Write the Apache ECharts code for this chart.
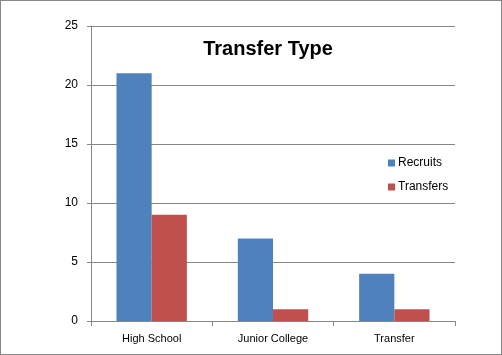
<!DOCTYPE html>
<html><head><meta charset="utf-8">
<script src="https://cdn.jsdelivr.net/npm/echarts@6/dist/echarts.min.js"></script>
<style>html,body{margin:0;padding:0;background:#fff}#c{width:502px;height:355px;box-sizing:border-box;border:1px solid #888}</style>
</head><body><div id="c"></div>
<script>
const categories = ["High School", "Junior College", "Transfer"];
const recruits = [21, 7, 4];
const transfers = [9, 1, 1];
const yTicks = [0, 5, 10, 15, 20, 25];

const chart = echarts.init(document.getElementById('c'), null, {renderer: 'canvas'});
const font = 'Liberation Sans, Arial, sans-serif';
chart.setOption({
  animation: false,
  title: {text: 'Transfer Type', left: 262, top: 33, textAlign: 'center',
    textStyle: {fontFamily: font, fontSize: 20, fontWeight: 'bold', color: '#000'}},
  legend: {orient: 'vertical', left: 382, top: 151, itemWidth: 7, itemHeight: 7, itemGap: 12,
    icon: 'rect', textStyle: {fontFamily: font, fontSize: 12, color: '#000', padding: [0,0,0,-2]}},
  grid: {left: 90, right: 46, top: 25, bottom: 33, containLabel: false},
  xAxis: {type: 'category', data: categories,
    axisLine: {lineStyle: {color: '#868686'}},
    axisTick: {show: true, length: 5, lineStyle: {color: '#868686'}},
    axisLabel: {fontFamily: font, fontSize: 11, color: '#000', margin: 12}},
  yAxis: {type: 'value', min: yTicks[0], max: yTicks[yTicks.length-1], interval: 5,
    axisLine: {show: true, lineStyle: {color: '#868686'}},
    axisTick: {show: true, length: 4, lineStyle: {color: '#868686'}},
    splitLine: {lineStyle: {color: '#868686'}},
    axisLabel: {fontFamily: font, fontSize: 12, color: '#000', margin: 13}},
  series: [
    {name: 'Recruits', type: 'bar', data: recruits, barGap: '0%', barCategoryGap: '42%', itemStyle: {color: '#4F81BD'}},
    {name: 'Transfers', type: 'bar', data: transfers, itemStyle: {color: '#C0504D'}}
  ]
});
</script></body></html>
